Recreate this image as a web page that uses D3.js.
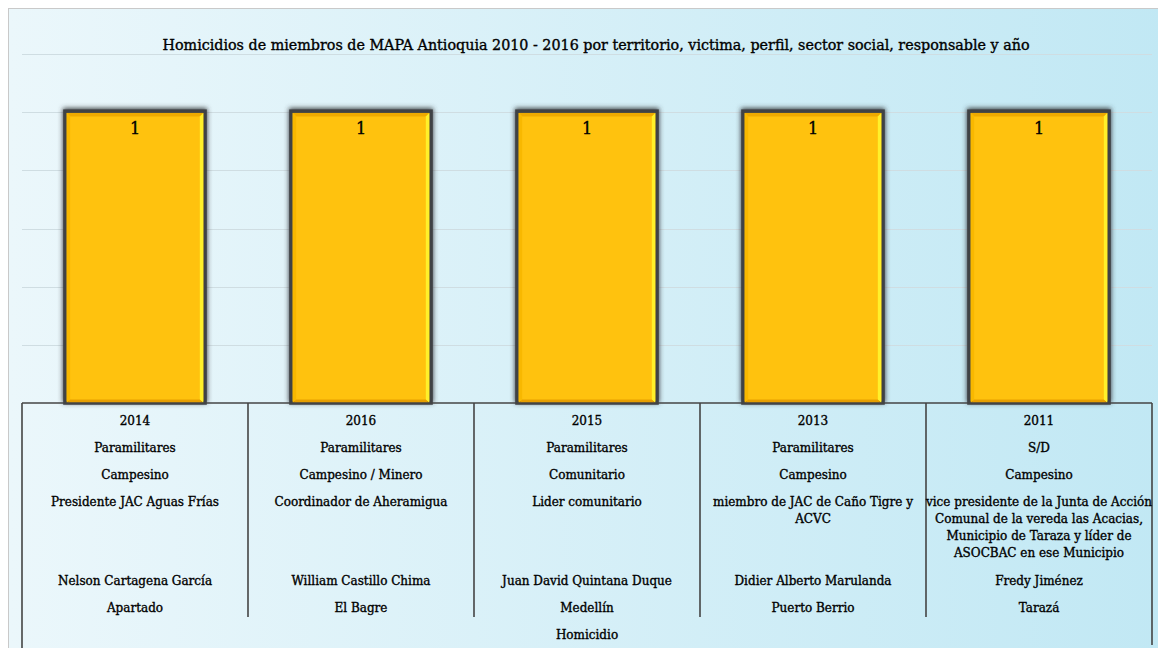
<!DOCTYPE html>
<html>
<head>
<meta charset="utf-8">
<script src="https://cdn.jsdelivr.net/npm/d3@7"></script>
<style>
  html, body { margin: 0; padding: 0; background: #ffffff; }
  svg { display: block; }
  text { fill: #000; stroke: #000; stroke-width: 0.35px; }
</style>
</head>
<body>
<svg id="chart" width="1158" height="648"></svg>
<script>
// Homicide counts per case, with the multi-level category labels
const years = ["2014", "2016", "2015", "2013", "2011"];
const responsables = ["Paramilitares", "Paramilitares", "Paramilitares", "Paramilitares", "S/D"];
const sectores = ["Campesino", "Campesino / Minero", "Comunitario", "Campesino", "Campesino"];
const perfiles = [
  "Presidente JAC Aguas Frías",
  "Coordinador de Aheramigua",
  "Lider comunitario",
  "miembro de JAC de Caño Tigre y\nACVC",
  "vice presidente de la Junta de Acción\nComunal de la vereda las Acacias,\nMunicipio de Taraza y líder de\nASOCBAC en ese Municipio"
];
const victimas = ["Nelson Cartagena García", "William Castillo Chima", "Juan David Quintana Duque", "Didier Alberto Marulanda", "Fredy Jiménez"];
const municipios = ["Apartado", "El Bagre", "Medellín", "Puerto Berrio", "Tarazá"];
const tipoHecho = "Homicidio";
const values = [1, 1, 1, 1, 1];
const yTicks = [0, 0.2, 0.4, 0.6, 0.8, 1, 1.2];

const title = "Homicidios de miembros de MAPA Antioquia 2010 - 2016 por territorio, victima, perfil, sector social, responsable y año";

const FONT = "DejaVu Serif";
const W = 1158, H = 648;
const svg = d3.select("#chart").style("font-family", FONT);
const defs = svg.append("defs");

// chart area background gradient
const bg = defs.append("linearGradient").attr("id", "bgGrad").attr("x1", "0%").attr("x2", "100%").attr("y1", "0%").attr("y2", "0%");
bg.append("stop").attr("offset", "0%").attr("stop-color", "#ebf7fb");
bg.append("stop").attr("offset", "100%").attr("stop-color", "#c1e8f4");

const blur = defs.append("filter").attr("id", "barShadow").attr("x", "-20%").attr("y", "-20%").attr("width", "140%").attr("height", "140%");
blur.append("feGaussianBlur").attr("stdDeviation", 2.4);

svg.append("rect").attr("x", 8.5).attr("y", 8.5).attr("width", W).attr("height", H)
  .attr("fill", "url(#bgGrad)").attr("stroke", "#c9c9c9").attr("stroke-width", 1);

const plot = { left: 22, right: 1152, top: 54, bottom: 403 };

const x = d3.scaleBand().domain(d3.range(years.length))
  .range([plot.left, plot.right]).paddingInner(0.38).paddingOuter(0.19);
const y = d3.scaleLinear().domain([0, 1.2]).range([plot.bottom, plot.top]);

// gridlines
svg.append("g").selectAll("line").data(yTicks.filter(t => t > 0)).join("line")
  .attr("x1", plot.left).attr("x2", plot.right)
  .attr("y1", d => Math.round(y(d)) + 0.5).attr("y2", d => Math.round(y(d)) + 0.5)
  .attr("stroke", "#cfdde2").attr("stroke-width", 1);

// title
svg.append("text").attr("x", 596).attr("y", 50).attr("text-anchor", "middle")
  .style("font-size", "14.3px").style("font-family", FONT).text(title);

// bars
const bars = svg.append("g").selectAll("g").data(values).join("g");
bars.append("rect")
  .attr("x", (d, i) => x(i) - 2).attr("y", d => y(d) - 4)
  .attr("width", x.bandwidth() + 4).attr("height", d => plot.bottom - y(d) + 4)
  .attr("fill", "#3b3e41").attr("filter", "url(#barShadow)");
bars.append("rect")
  .attr("x", (d, i) => x(i)).attr("y", d => y(d) - 1)
  .attr("width", x.bandwidth()).attr("height", d => plot.bottom - y(d) + 1)
  .attr("fill", "#ffc20e").attr("stroke", "#3f4245").attr("stroke-width", 3.5);

// bevel edges
const bev = 3.5;
bars.each(function (d, i) {
  const g = d3.select(this);
  const x0 = x(i) + 1.75, x1 = x(i) + x.bandwidth() - 1.75;
  const y0 = y(d) + 0.75, y1 = plot.bottom;
  const poly = (pts, c) => g.append("polygon").attr("points", pts.map(p => p.join(",")).join(" ")).attr("fill", c);
  poly([[x0, y0], [x1, y0], [x1 - bev, y0 + bev], [x0 + bev, y0 + bev]], "#eeaa00");
  poly([[x0, y0], [x0 + bev, y0 + bev], [x0 + bev, y1 - bev], [x0, y1]], "#f8b800");
  poly([[x1, y0], [x1, y1], [x1 - bev, y1 - bev], [x1 - bev, y0 + bev]], "#fff02a");
  poly([[x0, y1], [x0 + bev, y1 - bev], [x1 - bev, y1 - bev], [x1, y1]], "#e79f00");
  g.append("text").attr("x", x(i) + x.bandwidth() / 2).attr("y", y(d) + 22)
    .attr("text-anchor", "middle").style("font-size", "16px").style("font-family", FONT).text(d);
});

// multi-level category axis
const axis = svg.append("g").attr("stroke", "#444").attr("stroke-width", 1.6);
axis.append("line").attr("x1", plot.left).attr("x2", plot.right).attr("y1", plot.bottom).attr("y2", plot.bottom);
axis.append("line").attr("x1", plot.left).attr("x2", plot.left).attr("y1", plot.bottom).attr("y2", 648);
axis.append("line").attr("x1", plot.right).attr("x2", plot.right).attr("y1", plot.bottom).attr("y2", 645);
axis.selectAll("line.sep").data(d3.range(1, years.length)).join("line").attr("class", "sep")
  .attr("x1", i => plot.left + x.step() * i).attr("x2", i => plot.left + x.step() * i)
  .attr("y1", plot.bottom).attr("y2", 617);

const labelFont = "12px";
const cx = i => x(i) + x.bandwidth() / 2;
function rowText(arr, yy) {
  svg.append("g").selectAll("text").data(arr).join("text")
    .attr("x", (d, i) => cx(i)).attr("y", yy).attr("text-anchor", "middle")
    .style("font-size", labelFont).style("font-family", FONT).text(d => d);
}
rowText(years, 425);
rowText(responsables, 452);
rowText(sectores, 479);
rowText(victimas, 585);
rowText(municipios, 612);

// perfil row, one tspan per line
const perfilG = svg.append("g");
perfiles.forEach((p, i) => {
  const t = perfilG.append("text").attr("text-anchor", "middle")
    .style("font-size", labelFont).style("font-family", FONT);
  p.split("\n").forEach((l, k) => t.append("tspan").attr("x", cx(i)).attr("y", 506 + k * 17).text(l));
});

svg.append("text").attr("x", (plot.left + plot.right) / 2).attr("y", 639).attr("text-anchor", "middle")
  .style("font-size", labelFont).style("font-family", FONT).text(tipoHecho);
</script>
</body>
</html>
